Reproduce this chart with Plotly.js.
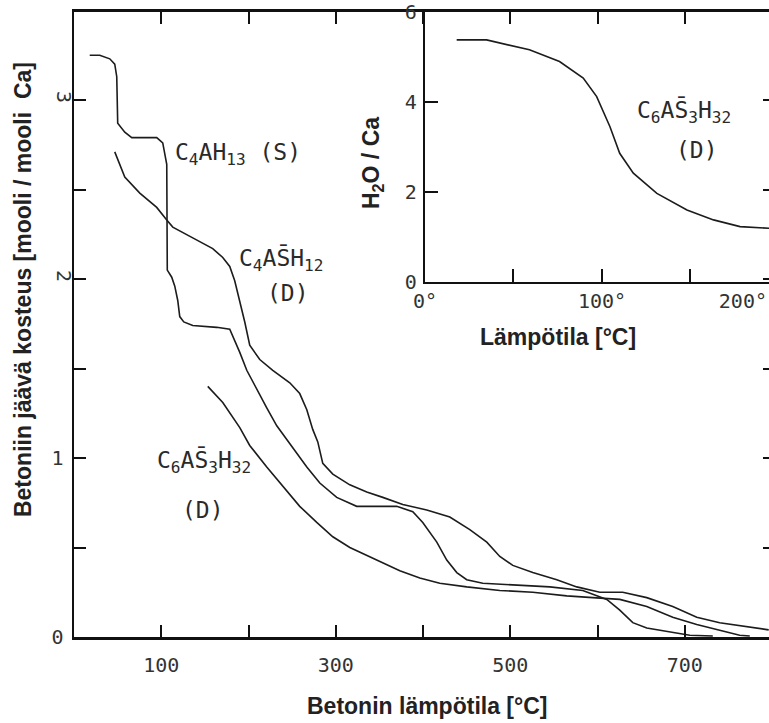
<!DOCTYPE html>
<html>
<head>
<meta charset="utf-8">
<script src="https://cdn.plot.ly/plotly-3.0.1.min.js"></script>
<style>
  html, body { margin: 0; padding: 0; overflow: hidden; background: #fff; }
  #chart { width: 790px; height: 723px; }
</style>
</head>
<body>
<div id="chart"></div>
<script>
// Residual moisture of hydrated phases vs. concrete temperature (°C)

// C4AH13 (S)
const tempC4AH13 = [18.0, 29.5, 41.0, 46.7, 49.0, 49.6, 50.1, 58.2, 66.2, 94.8, 101.7, 104.0, 106.3, 106.9,
  112.0, 115.5, 118.9, 121.2, 125.8, 136.1, 163.6, 178.5, 184.2, 190.0, 198.0, 209.5, 220.9, 232.4,
  250.7, 266.8, 281.7, 301.1, 324.0, 353.9, 369.9, 388.3, 399.7, 415.8, 427.2, 438.7, 450.1, 468.5,
  507.4, 545.3, 583.1, 610.6, 625.5, 640.4, 656.4, 682.8, 705.7, 732.1];
const waterC4AH13 = [3.25, 3.25, 3.23, 3.20, 3.13, 3.00, 2.87, 2.82, 2.79, 2.79, 2.76, 2.70, 2.64, 2.05,
  2.01, 1.96, 1.88, 1.79, 1.76, 1.74, 1.73, 1.72, 1.66, 1.59, 1.49, 1.38, 1.28, 1.18,
  1.06, 0.95, 0.86, 0.78, 0.73, 0.73, 0.73, 0.70, 0.64, 0.53, 0.43, 0.36, 0.32, 0.30,
  0.29, 0.28, 0.26, 0.21, 0.15, 0.08, 0.05, 0.03, 0.01, 0.006];

// C4AS̄H12 (D)
const tempC4ASH12 = [46.7, 58.2, 75.4, 94.8, 106.3, 113.2, 136.1, 159.0, 170.5, 178.5, 184.2, 190.0, 195.7,
  201.4, 212.9, 227.8, 247.3, 258.7, 266.8, 273.6, 279.4, 285.1, 296.6, 316.1, 335.5, 353.9, 376.8,
  404.3, 430.7, 453.6, 473.1, 488.0, 502.9, 525.8, 553.3, 576.2, 602.6, 628.9, 656.4, 686.2, 713.7,
  740.0, 771.0, 796.2];
const waterC4ASH12 = [2.71, 2.57, 2.48, 2.40, 2.33, 2.29, 2.23, 2.17, 2.12, 2.07, 1.99, 1.88, 1.76,
  1.63, 1.55, 1.49, 1.42, 1.36, 1.27, 1.16, 1.09, 0.97, 0.91, 0.85, 0.81, 0.78, 0.74,
  0.71, 0.67, 0.60, 0.53, 0.45, 0.40, 0.36, 0.32, 0.28, 0.25, 0.25, 0.22, 0.17, 0.11,
  0.08, 0.056, 0.04];

// C6AS̄3H32 (D)
const tempC6AS3H32 = [153.3, 170.5, 190.0, 201.4, 220.9, 239.3, 258.7, 278.2, 296.6, 316.1, 347.0, 373.4,
  396.3, 419.2, 450.1, 488.0, 525.8, 564.7, 594.5, 625.5, 656.4, 686.2, 713.7, 740.0, 762.9, 774.5];
const waterC6AS3H32 = [1.40, 1.31, 1.17, 1.07, 0.95, 0.84, 0.73, 0.64, 0.56, 0.50, 0.43, 0.37,
  0.33, 0.30, 0.28, 0.26, 0.25, 0.23, 0.22, 0.21, 0.17, 0.11, 0.07, 0.04, 0.01, 0.006];

// Inset: H2O / Ca of C6AS̄3H32 at 0–200 °C
const tempInset = [17.9, 34.8, 59.0, 76.0, 89.4, 97.0, 104.5, 110.0, 117.7, 131.0, 148.0, 163.0, 178.0, 194.0, 200.0];
const ratioInset = [5.38, 5.38, 5.16, 4.90, 4.53, 4.12, 3.45, 2.86, 2.42, 1.97, 1.60, 1.38, 1.23, 1.19, 1.18];

// Tick labels
const xTickVals = [100, 200, 300, 400, 500, 600, 700];
const xTickText = ['100', '', '300', '', '500', '', '700'];
const yTickVals = [0, 0.5, 1, 1.5, 2, 2.5, 3];
const yTickText = ['0', '', '1', '', '', '', ''];
const yTickValsTurned = [2, 3];
const yTickTextTurned = ['2', '3'];
const insetXTickVals = [0, 50, 100, 150, 200];
const insetXTickText = ['0°', '', '100°', '', '200°\u00a0\u00a0\u00a0\u00a0\u00a0\u00a0'];
const insetYTickVals = [0, 2, 4, 6];
const insetYTickText = ['0', '2', '4', '6'];

const ink = '#1c1c1c';
const tickFont = { family: 'DejaVu Sans Mono, monospace', size: 20, color: '#333' };
const labelFont = { family: 'DejaVu Sans Mono, monospace', size: 23, color: '#2a2a2a' };
const titleFont = { family: 'Liberation Sans, Arial, sans-serif', size: 23, color: '#222' };

const line = { color: ink, width: 1.6, shape: 'linear' };

const traces = [
  { x: tempC4AH13, y: waterC4AH13, xaxis: 'x', yaxis: 'y', mode: 'lines', line: line, hoverinfo: 'skip' },
  { x: tempC4ASH12, y: waterC4ASH12, xaxis: 'x', yaxis: 'y', mode: 'lines', line: line, hoverinfo: 'skip' },
  { x: tempC6AS3H32, y: waterC6AS3H32, xaxis: 'x', yaxis: 'y3', mode: 'lines', line: line, hoverinfo: 'skip' },
  { x: tempInset, y: ratioInset, xaxis: 'x2', yaxis: 'y2', mode: 'lines', line: line, hoverinfo: 'skip' }
];

const axisCommon = {
  showgrid: false, zeroline: false, showline: true,
  linecolor: '#111', tickcolor: '#111', tickwidth: 2,
  ticks: 'inside', tickmode: 'array', tickfont: tickFont
};

const layout = {
  width: 790, height: 723,
  margin: { l: 74, r: 11, t: 12, b: 86, pad: 0 },
  paper_bgcolor: '#fff', plot_bgcolor: 'rgba(0,0,0,0)',
  showlegend: false,
  xaxis: Object.assign({}, axisCommon, {
    domain: [0, 0.99433], range: [0, 803.4], anchor: 'y',
    tickvals: xTickVals, ticktext: xTickText,
    ticklen: 12, linewidth: 2.6, mirror: 'ticks', ticklabelstandoff: 8
  }),
  yaxis: Object.assign({}, axisCommon, {
    domain: [0, 1], range: [0, 3.4916], anchor: 'x',
    tickvals: yTickVals, ticktext: yTickText,
    ticklen: 12, linewidth: 2.4, mirror: 'ticks', ticklabelstandoff: 4
  }),
  // second left axis carrying the turned labels 2 and 3
  yaxis3: {
    overlaying: 'y', anchor: 'free', position: 0.004, side: 'left', range: [0, 3.4916],
    showgrid: false, zeroline: false, showline: false, ticks: '',
    tickmode: 'array', tickvals: yTickValsTurned, ticktext: yTickTextTurned,
    tickangle: 90, tickfont: tickFont
  },
  xaxis2: Object.assign({}, axisCommon, {
    domain: [0.49787, 1], range: [0, 200], anchor: 'y2',
    tickvals: insetXTickVals, ticktext: insetXTickText,
    ticklen: 13, linewidth: 2.2, mirror: true, ticklabeloverflow: 'allow'
  }),
  yaxis2: Object.assign({}, axisCommon, {
    domain: [0.568, 1], range: [0, 6], anchor: 'x2',
    tickvals: insetYTickVals, ticktext: insetYTickText,
    ticklen: 13, linewidth: 2.2, mirror: true, ticklabelstandoff: 2
  }),
  annotations: [
    // axis titles
    { xref: 'paper', yref: 'paper', x: 0.5007, y: -0.1104, xanchor: 'center', yanchor: 'middle',
      text: '<b>Betonin lämpötila [°C]</b>', showarrow: false, font: titleFont },
    { xref: 'paper', yref: 'paper', x: -0.0723, y: 0.5552, xanchor: 'center', yanchor: 'middle',
      textangle: -90, text: '<b>Betoniin jäävä kosteus [mooli / mooli  Ca]</b>', showarrow: false, font: titleFont },
    { xref: 'paper', yref: 'paper', x: 0.6865, y: 0.48, xanchor: 'center', yanchor: 'middle',
      text: '<b>Lämpötila [°C]</b>', showarrow: false, font: titleFont },
    { xref: 'paper', yref: 'paper', x: 0.4227, y: 0.7584, xanchor: 'center', yanchor: 'middle',
      textangle: -90, text: '<b>H<sub>2</sub>O / Ca</b>', showarrow: false, font: titleFont },
    // curve labels
    { xref: 'x', yref: 'y', x: 113.2, y: 2.70, xanchor: 'left', yanchor: 'middle', showarrow: false,
      text: 'C<sub>4</sub>AH<sub>13</sub> (S)', font: labelFont },
    { xref: 'x', yref: 'y', x: 186.5, y: 2.11, xanchor: 'left', yanchor: 'middle', showarrow: false,
      text: 'C<sub>4</sub>AS\u0304H<sub>12</sub>', font: labelFont },
    { xref: 'x', yref: 'y', x: 245, y: 1.92, xanchor: 'center', yanchor: 'middle', showarrow: false,
      text: '(D)', font: labelFont },
    { xref: 'x', yref: 'y', x: 92.5, y: 0.98, xanchor: 'left', yanchor: 'middle', showarrow: false,
      text: 'C<sub>6</sub>AS\u0304<sub>3</sub>H<sub>32</sub>', font: labelFont },
    { xref: 'x', yref: 'y', x: 147.6, y: 0.71, xanchor: 'center', yanchor: 'middle', showarrow: false,
      text: '(D)', font: labelFont },
    { xref: 'x2', yref: 'y2', x: 118.6, y: 3.78, xanchor: 'left', yanchor: 'middle', showarrow: false,
      text: 'C<sub>6</sub>AS\u0304<sub>3</sub>H<sub>32</sub>', font: labelFont },
    { xref: 'x2', yref: 'y2', x: 153.7, y: 2.93, xanchor: 'center', yanchor: 'middle', showarrow: false,
      text: '(D)', font: labelFont }
  ]
};

Plotly.newPlot('chart', traces, layout, { displayModeBar: false, staticPlot: true });
</script>
</body>
</html>
